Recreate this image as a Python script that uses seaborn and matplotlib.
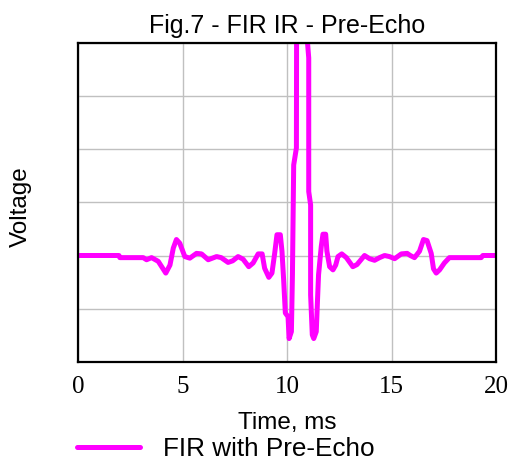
import matplotlib
matplotlib.use("Agg")
import matplotlib.pyplot as plt
import seaborn as sns
import pandas as pd

# Data (time in ms, voltage in arbitrary units)
time_ms = [0, 1.96, 2.0, 3.12, 3.28, 3.52, 3.84, 4.20, 4.40, 4.56, 4.71, 4.87,
           5.11, 5.35, 5.67, 5.91, 6.23, 6.63, 6.85, 7.18, 7.40, 7.66, 7.90,
           8.17, 8.38, 8.62, 8.81, 8.93, 9.13, 9.28, 9.41, 9.52, 9.68, 9.76,
           9.84, 9.92, 10.05, 10.10, 10.21, 10.26, 10.32, 10.45, 10.46, 10.70,
           10.92, 11.04, 11.04, 11.13, 11.13, 11.21, 11.28, 11.40, 11.45,
           11.51, 11.64, 11.72, 11.85, 11.91, 12.04, 12.20, 12.33, 12.44,
           12.62, 12.84, 13.15, 13.35, 13.71, 13.95, 14.19, 14.43, 14.67,
           14.90, 15.15, 15.47, 15.75, 15.90, 16.10, 16.34, 16.53, 16.70,
           16.90, 17.01, 17.14, 17.30, 17.53, 17.77, 18.17, 19.29, 19.37, 20.0]
voltage = [0, 0, -0.04, -0.04, -0.08, -0.04, -0.11, -0.33, -0.18, 0.14, 0.30,
           0.23, -0.02, -0.05, 0.04, 0.03, -0.08, -0.02, -0.04, -0.13, -0.10,
           -0.02, -0.07, -0.21, -0.14, 0.03, 0.03, -0.24, -0.41, -0.33, 0.04,
           0.39, 0.39, 0.08, -0.46, -1.08, -1.15, -1.56, -1.43, -0.36, 1.70,
           2.02, 4.5, 8.0, 4.3, 3.71, 1.20, 0.95, -0.74, -1.49, -1.56, -1.43,
           -0.93, -0.36, 0.17, 0.40, 0.40, 0.08, -0.21, -0.27, -0.18, -0.02,
           0.03, -0.04, -0.21, -0.17, 0.0, -0.06, -0.09, -0.04, 0.0, -0.02,
           -0.06, 0.03, 0.04, 0.0, -0.04, 0.08, 0.30, 0.28, 0.04, -0.25,
           -0.33, -0.27, -0.14, -0.04, -0.04, -0.04, 0.0, 0.0]
series_name = "FIR with Pre-Echo"
x_ticks = [0, 5, 10, 15, 20]
y_grid = [-2, -1, 0, 1, 2, 3, 4]

df = pd.DataFrame({"t": time_ms, "v": voltage, "series": series_name})

sns.set_style("white")
plt.rcParams["font.family"] = ["Liberation Sans", "DejaVu Sans"]
plt.rcParams["text.color"] = "black"
plt.rcParams["axes.labelcolor"] = "black"
plt.rcParams["xtick.color"] = "black"
plt.rcParams["ytick.color"] = "black"

fig = plt.figure(figsize=(5.11, 4.66), dpi=100)
ax = fig.add_axes([78 / 511, 1 - 362 / 466, (496 - 78) / 511, (362 - 42.5) / 466])

sns.lineplot(data=df, x="t", y="v", hue="series", palette=["#FF00FF"],
             sort=False, estimator=None, linewidth=3.6, ax=ax, legend=False)

ax.set_xlim(0, 20)
ax.set_ylim(-2, 4)
ax.set_xticks(x_ticks)
ax.set_xticklabels([str(v) for v in x_ticks], family=["Liberation Serif"],
                   fontsize=18, color="black")
ax.set_yticks(y_grid)
ax.set_yticklabels([])
ax.tick_params(length=0, pad=10)
ax.grid(True, color="#c0c0c0", linewidth=1.0)
ax.set_axisbelow(True)
for s in ax.spines.values():
    s.set_color("black")
    s.set_linewidth(1.6)

ax.set_title("Fig.7 - FIR IR - Pre-Echo", fontsize=18, pad=7, color="black")
ax.set_xlabel("Time, ms", fontsize=17.5, labelpad=10, color="black")
ax.set_ylabel("Voltage", fontsize=17.5, color="black")
ax.yaxis.set_label_coords(-46 / 418, 0.487)

handle = plt.Line2D([], [], color="#FF00FF", linewidth=3.6)
fig.legend([handle], [series_name], loc="center left",
           bbox_to_anchor=(77 / 511, 1 - 449 / 466), frameon=False,
           fontsize=18.8, handlelength=2.4, handletextpad=0.88, borderpad=0,
           borderaxespad=0, labelcolor="black")

fig.savefig("out.png", dpi=100)
